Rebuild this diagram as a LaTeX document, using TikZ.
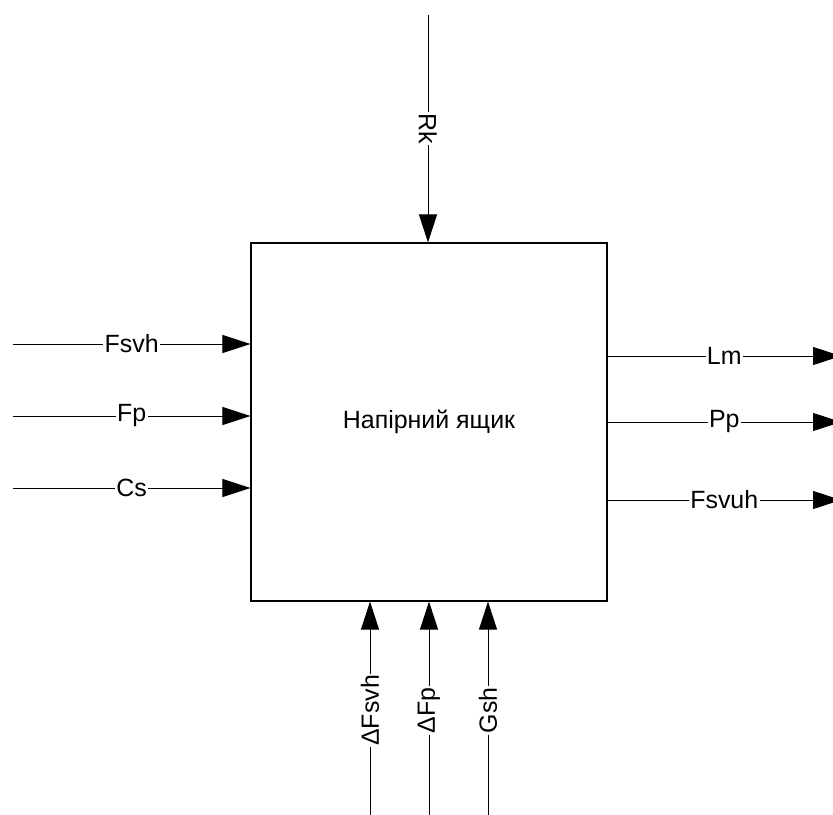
\documentclass[tikz,border=0pt]{standalone}
\usepackage{fontspec}
\setmainfont{Liberation Sans}
\usepackage{tikz}
\usetikzlibrary{arrows.meta,positioning}

\begin{document}
\begin{tikzpicture}[x=0.75pt,y=-0.75pt,font=\fontsize{18.7}{22}\selectfont,
   block/.style={draw,line width=0.8pt,minimum width=267pt,minimum height=268.5pt,
               inner sep=0pt,align=center},
   flow/.style={-{Triangle[length=21pt,width=13.5pt]},line width=0.7pt},
   lbl/.style={fill=white,inner sep=1pt}]
  \useasboundingbox (0,0) rectangle (833,815);
  \node[block] (head) at (429,422) {Напірний ящик};
  % free ends
  \coordinate (rk) at (428,15);
  \coordinate (fsvh) at (13,344);
  \coordinate (fp) at (13,416);
  \coordinate (cs) at (13,488);
  \coordinate (lm) at (841,356);
  \coordinate (pp) at (841,422);
  \coordinate (fsvuh) at (841,500);
  \coordinate (dfsvh) at (370,815);
  \coordinate (dfp) at (429,815);
  \coordinate (gsh) at (488,815);
  % inputs
  \draw[flow] (rk) -- node[lbl,rotate=-90] {Rk} (rk |- head.north);
  \draw[flow] (fsvh) -- node[lbl] {Fsvh} (fsvh -| head.west);
  \draw[flow] (fp) -- node[lbl] {Fp} (fp -| head.west);
  \draw[flow] (cs) -- node[lbl] {Cs} (cs -| head.west);
  % outputs
  \draw[flow] (lm -| head.east) -- node[lbl] {Lm} (lm);
  \draw[flow] (pp -| head.east) -- node[lbl] {Pp} (pp);
  \draw[flow] (fsvuh -| head.east) -- node[lbl] {Fsvuh} (fsvuh);
  % control
  \draw[flow] (dfsvh) -- node[lbl,rotate=90,pos=0.49] {ΔFsvh} (dfsvh |- head.south);
  \draw[flow] (dfp) -- node[lbl,rotate=90,pos=0.49] {ΔFp} (dfp |- head.south);
  \draw[flow] (gsh) -- node[lbl,rotate=90,pos=0.49] {Gsh} (gsh |- head.south);
\end{tikzpicture}
\end{document}
